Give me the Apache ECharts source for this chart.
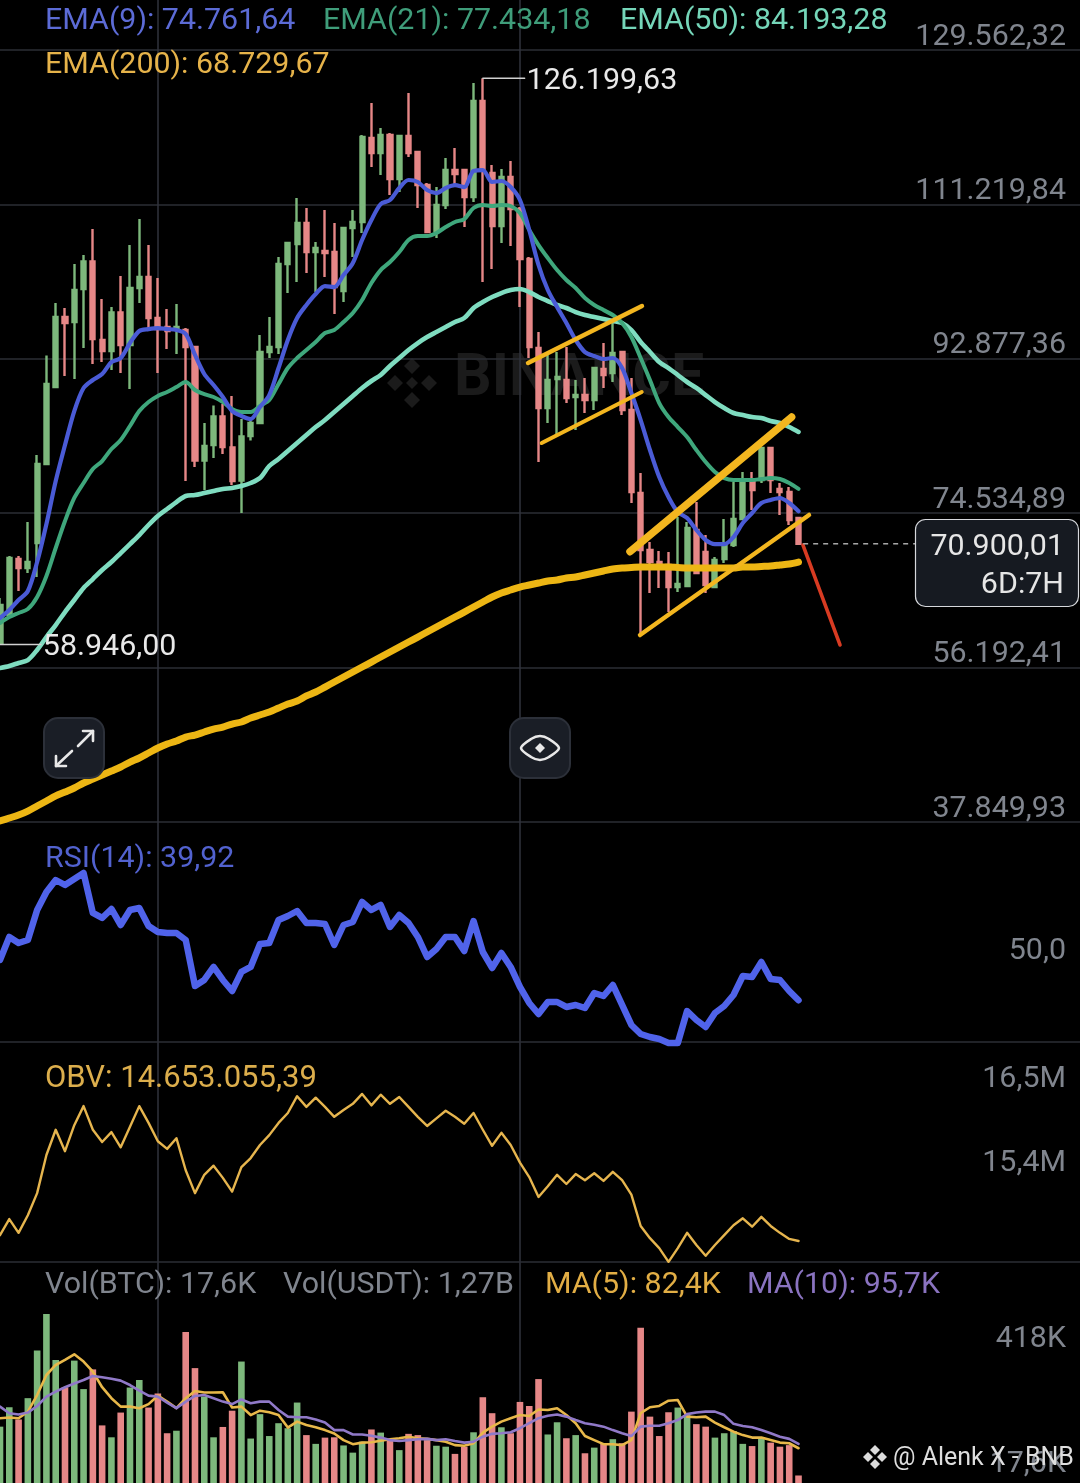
<!DOCTYPE html>
<html>
<head>
<meta charset="utf-8">
<script src="https://cdn.jsdelivr.net/npm/echarts@6/dist/echarts.min.js"></script>
<style>html,body{margin:0;padding:0;background:#000}#c{width:1080px;height:1483px}</style>
</head>
<body>
<div id="c"></div>
<script>
// candle values, in thousands of USDT
const openK=[59.11,62.44,69.09,68.02,70.99,80.38,89.52,97.84,97.25,101.17,104.43,95.11,93.80,98.38,94.51,101.29,102.59,97.72,96.65,96.41,96.30,94.28,80.79,82.63,86.02,82.34,78.42,83.70,85.25,93.68,94.28,104.14,106.51,109.01,105.56,105.68,105.56,100.93,108.41,109.13,119.11,117.32,119.46,114.23,119.34,117.44,113.52,108.06,111.15,115.30,115.30,112.10,123.50,114.95,108.65,114.47,110.67,104.73,94.16,87.03,90.47,90.36,88.34,88.57,87.98,91.66,91.19,93.68,86.79,76.93,70.16,68.73,68.38,65.76,65.88,72.54,69.92,65.76,69.09,70.75,73.84,78.24,78.48,82.28,77.41,77.05,73.96];
const closeK=[63.63,69.21,68.02,68.73,80.38,89.88,97.84,97.13,101.05,104.43,95.23,93.80,98.38,94.51,101.29,102.59,97.72,96.41,96.18,96.65,94.28,80.79,82.52,86.02,82.40,78.36,83.64,85.25,93.68,94.28,104.14,106.63,109.01,105.56,106.04,105.44,101.40,108.41,109.13,119.22,117.32,119.46,114.23,119.34,117.32,113.52,107.94,111.15,115.30,114.83,112.10,123.50,115.30,108.65,114.47,110.67,104.73,94.28,87.03,90.36,90.71,88.22,88.57,87.98,91.78,90.95,93.56,86.79,77.05,70.16,68.73,68.14,65.76,66.12,72.77,67.43,66.00,68.97,70.75,73.84,78.24,77.29,82.28,78.48,77.05,73.72,70.90];
const lowK=[58.95,62.08,65.29,67.43,66.95,80.38,89.41,90.83,90.47,94.16,92.26,92.49,91.54,91.19,89.29,99.50,96.53,91.19,94.04,93.44,78.36,80.02,77.29,81.09,81.56,77.88,74.56,83.17,85.25,92.97,93.44,100.69,102.00,103.07,100.81,102.59,98.20,99.62,104.97,107.82,115.66,114.71,112.33,112.69,116.85,110.79,107.82,107.23,110.67,113.52,108.53,111.50,102.00,103.54,106.63,106.27,99.03,92.97,80.61,85.25,83.82,87.62,84.42,86.44,86.79,89.41,90.12,86.20,75.74,60.06,65.05,65.65,62.79,65.17,65.76,67.43,65.05,65.76,68.62,70.52,73.84,74.91,78.12,76.93,74.32,73.13,70.75];
const highK=[64.46,69.45,69.45,73.49,81.45,93.27,99.50,98.91,104.14,105.21,108.29,99.98,99.03,102.71,106.39,109.48,106.39,102.47,98.79,99.38,96.53,94.40,85.25,87.33,87.50,88.46,85.72,85.60,95.70,97.84,104.97,106.63,111.98,110.79,106.75,110.55,109.01,108.41,110.55,119.46,123.26,120.29,119.70,119.34,124.45,117.56,113.76,113.28,116.73,117.92,115.42,125.64,126.20,115.90,115.42,116.37,110.91,104.97,96.06,93.33,93.68,94.28,90.36,90.59,91.90,94.75,97.13,93.68,90.59,79.31,71.11,70.04,69.92,74.08,73.49,75.86,71.94,69.33,73.84,78.24,79.43,79.43,82.28,82.28,78.12,77.65,73.96];
const ema9=[62.08,63.03,64.22,65.29,68.73,73.25,78.36,82.63,86.67,89.41,90.36,91.07,92.49,92.97,94.75,96.18,96.41,96.53,96.41,96.30,95.82,93.33,91.07,89.76,88.34,86.67,86.08,85.72,87.15,88.57,91.78,95.11,97.72,99.27,100.57,101.52,101.40,102.83,104.26,106.99,109.36,111.26,111.74,113.17,114.12,113.88,112.93,112.57,113.17,113.52,113.28,115.19,115.30,113.88,114.00,113.28,111.74,108.18,104.02,101.05,99.03,97.13,95.11,93.68,93.21,92.85,92.97,91.78,88.81,85.60,82.04,78.83,76.46,74.67,73.96,72.54,71.35,70.87,70.87,71.70,73.37,74.56,75.74,76.10,76.34,75.74,74.76];
const ema21=[61.49,62.20,62.68,63.15,64.58,67.07,70.40,73.60,76.34,78.12,79.78,80.73,82.16,83.23,84.89,86.67,87.74,88.46,88.93,89.52,90.12,89.17,88.69,88.34,87.74,86.91,86.55,86.55,87.27,87.98,89.88,91.78,92.97,93.92,94.87,95.94,96.30,97.25,98.32,99.86,101.88,103.42,104.37,105.56,106.99,107.46,107.46,107.82,108.53,109.13,109.48,110.79,111.15,111.03,111.15,111.03,110.20,108.18,106.39,104.85,103.42,102.24,101.29,100.10,99.27,98.67,98.08,97.13,95.46,92.97,90.36,87.62,85.96,84.77,83.58,82.04,80.61,79.43,78.71,78.48,78.48,78.48,78.59,78.71,78.59,78.12,77.43];
const ema50=[56.14,56.38,56.74,57.09,58.28,59.82,61.25,62.79,64.22,65.65,66.71,67.78,68.73,69.80,70.87,71.94,73.13,74.20,75.03,75.86,76.58,76.69,76.93,77.17,77.41,77.53,77.76,78.12,78.71,80.14,80.97,81.92,82.87,83.82,84.77,85.60,86.55,87.50,88.46,89.41,90.24,90.95,92.02,92.97,93.92,94.75,95.46,96.06,96.65,97.25,97.72,98.91,99.62,100.22,100.69,101.05,101.17,100.81,100.22,99.74,99.27,98.91,98.43,98.08,97.84,97.60,97.37,97.13,96.30,94.87,93.68,92.49,91.78,90.95,90.12,89.41,88.57,87.74,87.03,86.44,86.20,85.96,85.84,85.48,85.25,84.77,84.19];
const ema200=[37.97,38.32,38.68,39.15,39.75,40.34,40.94,41.41,41.89,42.48,42.95,43.43,43.90,44.38,44.97,45.45,46.04,46.64,47.11,47.47,47.94,48.18,48.54,48.89,49.13,49.49,49.73,50.20,50.56,50.91,51.39,51.86,52.22,52.82,53.29,53.88,54.48,55.07,55.67,56.26,56.85,57.45,58.04,58.64,59.23,59.82,60.42,61.01,61.61,62.20,62.79,63.39,63.98,64.58,65.05,65.41,65.76,66.00,66.24,66.48,66.60,66.83,66.95,67.19,67.43,67.67,67.90,68.02,68.08,68.14,68.14,68.14,68.14,68.08,68.02,68.02,68.02,68.02,68.02,68.02,68.14,68.14,68.20,68.26,68.38,68.50,68.73];
const rsi=[51.11,57.5,55.83,56.67,65.0,70.0,73.33,71.94,73.61,75.28,64.17,62.78,65.28,60.83,65.0,65.56,60.56,58.89,58.61,58.61,56.67,43.89,45.56,49.17,45.56,42.5,47.78,49.17,55.56,55.83,62.22,63.33,64.72,61.39,61.39,61.11,55.28,60.83,61.67,67.22,65.0,66.39,60.28,63.61,61.39,57.5,51.94,54.17,57.5,57.5,53.61,61.94,53.33,48.89,53.06,49.17,43.61,39.17,36.11,39.44,39.44,38.06,38.61,37.78,41.94,41.11,44.17,38.61,33.06,30.56,29.72,29.17,28.06,28.06,36.94,34.44,32.5,36.39,38.33,41.39,46.67,46.39,50.56,45.83,45.56,42.5,39.92];
const obv=[14.73,14.94,14.76,14.99,15.28,15.78,16.11,15.83,16.17,16.42,16.11,15.95,16.08,15.88,16.15,16.42,16.2,15.96,15.86,16.0,15.58,15.28,15.52,15.64,15.48,15.30,15.62,15.74,15.91,16.04,16.2,16.33,16.55,16.41,16.53,16.41,16.28,16.37,16.45,16.58,16.43,16.57,16.45,16.54,16.41,16.28,16.16,16.26,16.36,16.28,16.19,16.33,16.11,15.90,16.07,15.91,15.68,15.49,15.23,15.37,15.52,15.40,15.53,15.45,15.54,15.44,15.56,15.45,15.26,14.85,14.69,14.56,14.38,14.56,14.76,14.60,14.46,14.60,14.73,14.86,14.95,14.84,14.97,14.85,14.76,14.68,14.653];
const vol=[180,242,203,271,423,540,393,306,391,300,363,184,146,225,305,329,241,286,159,167,482,367,276,146,179,231,388,142,220,150,191,175,257,153,125,145,146,120,97,132,171,161,135,105,157,153,137,119,116,93,116,162,274,223,178,159,259,246,332,155,194,143,153,95,113,127,140,127,228,496,212,150,226,241,217,188,180,145,159,166,125,118,143,129,116,121,24];
const volMa5=[207,209,207,228,281,345,377,393,411,388,356,306,271,244,244,239,252,279,260,239,271,294,289,289,290,241,244,217,231,226,217,177,196,185,178,169,158,137,124,129,130,135,140,143,148,143,141,137,132,121,119,127,161,180,196,207,217,214,235,233,239,217,191,150,137,124,124,121,137,223,242,246,263,265,212,210,212,193,178,164,153,145,145,137,129,127,111];
const volMa10=[244,223,219,225,246,276,292,306,318,329,342,338,333,327,313,295,279,276,257,239,260,278,281,271,260,252,267,255,260,260,233,212,210,210,203,193,169,169,155,155,151,145,137,134,137,140,141,137,140,134,129,132,148,157,159,162,175,191,207,215,219,212,201,191,186,180,169,159,150,180,183,183,191,201,220,225,228,228,217,189,182,178,169,159,148,141,125];
// axis ticks
const priceTicksK=[37.84993,56.19241,74.53489,92.87736,111.21984,129.56232];
const rsiTicks=[50];
const obvTicksM=[15.4,16.5];
const volTicksK=[17.6,418];
const crossIndex=[17,56];
// extreme and last-price annotations
const highMark=[[52,126.19963],[56.5,126.19963]];
const lowMark=[[0,58.946],[4.4,58.946]];
const lastPrice=[[86.5,70.90001],[98.55,70.90001]];
// hand-drawn lines: [candle index, price in thousands]
const channelA=[[56.87,92.38],[69.14,99.15]];
const channelB=[[58.34,82.87],[69.11,88.93]];
const wedgeUpper=[[67.85,69.96],[85.26,85.96]];
const wedgeLower=[[68.93,60.06],[87.13,74.32]];
const dropArrow=[[86.48,70.75],[90.47,58.88]];
// header strings
const legendRow1=["EMA(9): 74.761,64","EMA(21): 77.434,18","EMA(50): 84.193,28"];
const legendRow2=["EMA(200): 68.729,67"];
const rsiText="RSI(14): 39,92";
const obvText="OBV: 14.653.055,39";
const volTexts=["Vol(BTC): 17,6K","Vol(USDT): 1,27B","MA(5): 82,4K","MA(10): 95,7K"];
const tagTexts=["70.900,01","6D:7H"];
const credit="@ Alenk X - BNB";

const FONT='Roboto, "Noto Sans", sans-serif';
const FS=30.4;
const GRID_C='#2b2e35', VLINE_C='#30333c', AX_TEXT='#80858e', UP='#7db87c', DOWN='#e68787';
const XMAX=1080/9.285;
const fmtDE=(v,d)=>v.toLocaleString('de-DE',{minimumFractionDigits:d,maximumFractionDigits:d});
const xy=a=>a.map((v,i)=>[i,v]);
const xBase=(gridIndex)=>({type:'value',gridIndex,min:0,max:XMAX,
  axisLabel:{show:false},axisTick:{show:false,customValues:crossIndex},
  axisLine:{show:gridIndex===1||gridIndex===2,onZero:false,lineStyle:{color:GRID_C,width:1.5}},
  splitLine:{show:true,lineStyle:{color:VLINE_C,width:1.5}}});
const yBase=(gridIndex,min,max,ticks,fmt,extra)=>({type:'value',gridIndex,position:'right',min,max,scale:true,
  axisLine:{show:false},axisTick:{show:false,customValues:ticks},
  splitLine:{show:gridIndex===0,lineStyle:{color:GRID_C,width:1.5}},
  axisLabel:Object.assign({inside:true,margin:14,customValues:ticks,formatter:fmt,color:AX_TEXT,fontFamily:FONT,fontSize:FS,lineHeight:26,verticalAlign:'bottom',align:'right'},extra||{})});
const lineS=(name,data,color,width,xi,extra)=>Object.assign({name,type:'line',data,xAxisIndex:xi,yAxisIndex:xi,showSymbol:false,symbol:'none',animation:false,silent:true,
  lineStyle:{color,width,cap:'round',join:'round'}},extra||{});
const annot=(name,data,color,width,extra)=>lineS(name,data,color,width,0,Object.assign({clip:false,z:6},extra||{}));
const txt=(text,x,y,fill,size,align,weight)=>({type:'text',z:20,silent:true,style:{text,x,y:y+3,fill,fontFamily:FONT,fontSize:size||FS,fontWeight:weight||'normal',align:align||'left',verticalAlign:'middle'}});
const tagLabel=(t)=>({show:true,formatter:t,color:'#e9e9e9',fontFamily:FONT,fontSize:FS,distance:2,align:'left',verticalAlign:'middle',offset:[0,3]});

const chart=echarts.init(document.getElementById('c'),null,{width:1080,height:1483});
const grey={stroke:'#e8e8e8',lineWidth:2.6,fill:'none',lineCap:'round',lineJoin:'round'};
const btnStyle={fill:'#1a1e26',stroke:'#2c3039',lineWidth:2};
const logoFill='#1b1b1b';
const diamond=(cx,cy,r,fill,z)=>({type:'polygon',z,silent:true,shape:{points:[[cx,cy-r],[cx+r,cy],[cx,cy+r],[cx-r,cy]]},style:{fill}});

chart.setOption({
  backgroundColor:'#000',animation:false,
  grid:[
    {left:0,width:1080,top:0,height:822},
    {left:0,width:1080,top:822,height:220},
    {left:0,width:1080,top:1042,height:220},
    {left:0,width:1080,top:1262,height:221}
  ],
  xAxis:[xBase(0),xBase(1),xBase(2),xBase(3)],
  yAxis:[
    yBase(0,37.848,135.502,priceTicksK,v=>fmtDE(v*1000,2)),
    yBase(1,28.33,89.44,rsiTicks,v=>fmtDE(v,1)),
    yBase(2,14.378,17.26,obvTicksM,v=>fmtDE(v,1)+'M',{padding:[0,0,8,0]}),
    yBase(3,0,706,volTicksK,v=>fmtDE(v,v<100?1:0)+'K')
  ],
  series:[
    {name:'Candles',type:'candlestick',xAxisIndex:0,yAxisIndex:0,z:2,barWidth:4.6,silent:true,animation:false,
      encode:{x:0,y:[1,2,3,4]},
      data:openK.map((o,i)=>[i,o,closeK[i],lowK[i],highK[i]]),
      itemStyle:{color:UP,color0:DOWN,borderColor:UP,borderColor0:DOWN,borderWidth:2.4}},
    lineS('EMA200',xy(ema200),'#edb614',7,0,{z:3,smooth:.3}),
    lineS('EMA50',xy(ema50),'#7fdcc0',4.6,0,{z:3,smooth:.3}),
    lineS('EMA21',xy(ema21),'#3fa77c',4,0,{z:3,smooth:.3}),
    lineS('EMA9',xy(ema9),'#4a5bd6',4.2,0,{z:4,smooth:.3}),
    annot('Channel A',channelA,'#f3b61f',4.5),
    annot('Channel B',channelB,'#f3b61f',4),
    annot('Wedge upper',wedgeUpper,'#f3b61f',7.5),
    annot('Wedge lower',wedgeLower,'#f3b61f',4.5),
    annot('Drop',dropArrow,'#d83b22',3.6),
    annot('Last price',lastPrice,'#b5b5b5',1.4,{lineStyle:{color:'#b5b5b5',width:1.4,type:[5,5]}}),
    annot('High',highMark,'#d0d0d0',1.5,{endLabel:tagLabel(fmtDE(highMark[0][1]*1000,2))}),
    annot('Low',lowMark,'#d0d0d0',1.5,{endLabel:tagLabel(fmtDE(lowMark[0][1]*1000,2))}),
    lineS('RSI',xy(rsi),'#5063ea',6.5,1,{clip:false,z:3}),
    lineS('OBV',xy(obv),'#e6b54e',2.4,2,{clip:false,z:3}),
    {name:'Volume',type:'bar',xAxisIndex:3,yAxisIndex:3,z:2,barWidth:6.6,silent:true,animation:false,
      data:vol.map((v,i)=>({value:[i,v],itemStyle:{color:closeK[i]>=openK[i]?UP:DOWN}}))},
    lineS('MA5',xy(volMa5),'#e8b84a',2.6,3,{z:3}),
    lineS('MA10',xy(volMa10),'#9079c8',2.6,3,{z:3})
  ],
  graphic:{elements:[
    // faint exchange mark behind the marks
    Object.assign(txt('BINANCE',454,377,logoFill,59,'left','bold'),{z:-5}),
    diamond(412,366,8,logoFill,-5),diamond(412,400,8,logoFill,-5),diamond(395,383,8,logoFill,-5),diamond(429,383,8,logoFill,-5),diamond(412,383,6,logoFill,-5),
    // legends
    txt(legendRow1[0],45,18,'#5c6bd6'),txt(legendRow1[1],323,18,'#3f9d7a'),txt(legendRow1[2],620,18,'#75d6b9'),
    txt(legendRow2[0],45,62,'#e6b34a'),
    txt(rsiText,45,856,'#5262cf'),
    txt(obvText,45,1076,'#dcae4c',31),
    txt(volTexts[0],45,1282,AX_TEXT),txt(volTexts[1],283,1282,AX_TEXT),txt(volTexts[2],545,1282,'#e2ae45'),txt(volTexts[3],747,1282,'#8a73c0'),
    // last price tag
    {type:'rect',z:20,silent:true,shape:{x:915.5,y:519.5,width:163,height:87,r:10},style:{fill:'#161a21',stroke:'#d6d8dc',lineWidth:1.2}},
    txt(tagTexts[0],1064,544,'#e6e6e6',FS,'right'),
    txt(tagTexts[1],1064,582,'#e6e6e6',FS,'right'),
    // chart buttons
    {type:'rect',z:20,silent:true,shape:{x:44,y:718,width:60,height:60,r:14},style:btnStyle},
    {type:'polyline',z:21,silent:true,shape:{points:[[56,766],[72,751]]},style:grey},
    {type:'polyline',z:21,silent:true,shape:{points:[[56,756],[56,766],[66,766]]},style:grey},
    {type:'polyline',z:21,silent:true,shape:{points:[[78,746],[93,731]]},style:grey},
    {type:'polyline',z:21,silent:true,shape:{points:[[83,731],[93,731],[93,741]]},style:grey},
    {type:'rect',z:20,silent:true,shape:{x:510,y:718,width:60,height:60,r:14},style:btnStyle},
    {type:'polygon',z:21,silent:true,shape:{points:[[521,748],[531,739],[540,736],[549,739],[559,748],[549,757],[540,760],[531,757]],smooth:.3},style:grey},
    diamond(540,748,5,'#e8e8e8',21),
    // credit
    diamond(875,1450,5,'#dcdcdc',21),diamond(875,1464,5,'#dcdcdc',21),diamond(868,1457,5,'#dcdcdc',21),diamond(882,1457,5,'#dcdcdc',21),
    txt(credit,893,1456,'#dedede',25)
  ]}
});
</script>
</body>
</html>
